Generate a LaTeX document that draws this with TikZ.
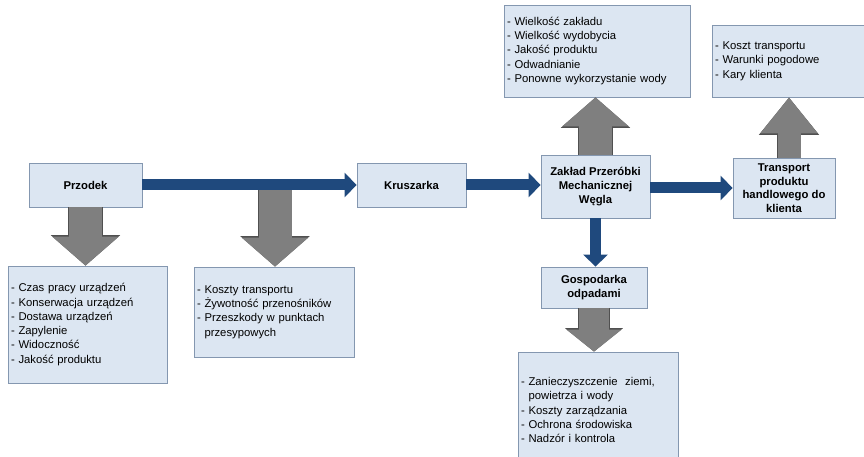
\documentclass[tikz,border=0pt]{standalone}
\usepackage{fontspec}
\setmainfont{Liberation Sans}
\usetikzlibrary{arrows.meta}
\definecolor{wgBox}{HTML}{DCE6F2}
\definecolor{wgEdge}{HTML}{8497B0}
\definecolor{wgFlow}{HTML}{1F497D}
\definecolor{wgImpact}{HTML}{7F7F7F}
\definecolor{wgImpactEdge}{HTML}{505050}
\tikzset{
  wgnode/.style={
    draw=wgEdge, fill=wgBox, line width=0.8pt, align=center, inner sep=2pt,
    font=\fontsize{11.3}{13.6}\selectfont\bfseries
  },
  wglist/.style={
    draw=wgEdge, fill=wgBox, line width=0.8pt, align=left, inner xsep=3pt,
    font=\fontsize{11.3}{14.3}\selectfont
  },
  flow/.style={-{Triangle[length=12pt, width=24pt]}, line width=11pt, wgFlow},
  impact/.style={
    -{Triangle[length=29pt, width=65pt]}, line width=33pt, wgImpact,
    preaction={draw=wgImpactEdge, line width=34.4pt, -{Triangle[length=30.4pt, width=67.6pt]}}
  },
  impactslim/.style={
    -{Triangle[length=36pt, width=55pt]}, line width=23pt, wgImpact,
    preaction={draw=wgImpactEdge, line width=24.4pt, -{Triangle[length=37.4pt, width=57.6pt]}}
  },
  impactshort/.style={
    -{Triangle[length=22pt, width=54pt]}, line width=30pt, wgImpact,
    preaction={draw=wgImpactEdge, line width=31.4pt, -{Triangle[length=23.4pt, width=56.6pt]}}
  }
}

\begin{document}
\begin{tikzpicture}[x=1pt, y=-1pt]
  \useasboundingbox (0,0) rectangle (864,457);
  % main chain
  \node[wgnode, minimum width=113pt, minimum height=44pt] (przodek) at (85.5,185) {Przodek};
  \node[wgnode, minimum width=109pt, minimum height=44pt] (kruszarka) at (411.5,185) {Kruszarka};
  \node[wgnode, minimum width=109pt, minimum height=63pt] (zaklad) at (595.5,186.5) {Zakład Przeróbki\\Mechanicznej\\Węgla};
  \node[wgnode, minimum width=102pt, minimum height=60pt] (transport) at (784,188) {Transport\\produktu\\handlowego do\\klienta};
  \node[wgnode, minimum width=106pt, minimum height=41pt] (gospodarka) at (594,287.5) {Gospodarka\\odpadami};
  % factor lists
  \node[wglist, text width=153pt, minimum height=117pt] (listPrzodek) at (87.5,324.5) {- Czas pracy urządzeń\\- Konserwacja urządzeń\\- Dostawa urządzeń\\- Zapylenie\\- Widoczność\\- Jakość produktu};
  \node[wglist, text width=154pt, minimum height=90pt] (listTasmy) at (274,312) {- Koszty transportu\\- Żywotność przenośników\\- Przeszkody w punktach\\\phantom{- }przesypowych};
  \node[wglist, text width=180pt, minimum height=92pt] (listZaklad) at (597,51) {- Wielkość zakładu\\- Wielkość wydobycia\\- Jakość produktu\\- Odwadnianie\\- Ponowne wykorzystanie wody};
  \node[wglist, text width=148pt, minimum height=72pt] (listKlient) at (789,61) {- Koszt transportu\\- Warunki pogodowe\\- Kary klienta};
  \node[wglist, text width=154pt, minimum height=116pt] (listOdpady) at (598,410) {- Zanieczyszczenie\ \ ziemi,\\\phantom{- }powietrza i wody\\- Koszty zarządzania\\- Ochrona środowiska\\- Nadzór i kontrola};
  % impact arrows
  \coordinate (tasma) at (275,186);
  \draw[impact] (przodek.south) -- (przodek.south |- listPrzodek.north);
  \draw[impact] (tasma) -- (tasma |- listTasmy.north);
  \draw[impact] (zaklad.north) -- (zaklad.north |- listZaklad.south);
  \draw[impactslim] (listKlient.south |- transport.north) -- (listKlient.south);
  \draw[impactshort] (gospodarka.south) -- (gospodarka.south |- listOdpady.north);
  % material flow
  \draw[flow] (przodek.east) -- (kruszarka.west);
  \draw[flow] (kruszarka.east) -- (kruszarka.east -| zaklad.west);
  \draw[flow] (zaklad.east |- transport.west) -- (transport.west);
  \draw[flow] (zaklad.south) -- (zaklad.south |- gospodarka.north);
\end{tikzpicture}
\end{document}
